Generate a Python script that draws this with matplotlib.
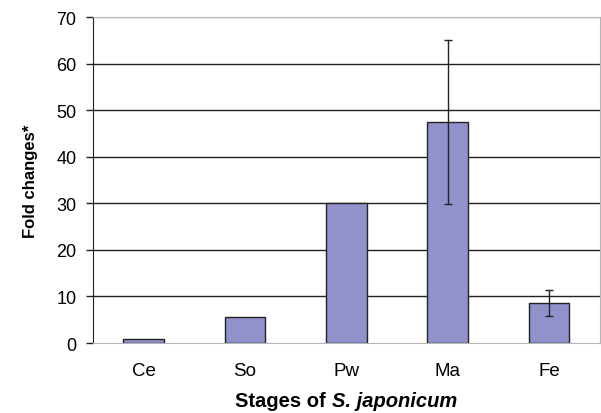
import matplotlib.pyplot as plt

# Данные
stages = ['Ce', 'So', 'Pw', 'Ma', 'Fe']
fold = [0.8, 5.5, 30.0, 47.5, 8.6]
err = [0, 0, 0, 17.6, 2.7]

plt.rcParams['font.family'] = 'Liberation Sans'

fig = plt.figure(figsize=(6.01, 4.14), dpi=100)
ax = fig.add_axes([0.1547, 0.169, 0.843, 0.7875])

x = range(len(stages))
ax.bar(x, fold, width=0.4, color='#9191cb', edgecolor='#222222', linewidth=1.0, zorder=3)
for i in x:
    if err[i] > 0:
        ax.errorbar(i, fold[i], yerr=err[i], fmt='none', ecolor='#222222',
                    elinewidth=1.0, capsize=3, capthick=1.0, zorder=4)

ax.set_xlim(-0.5, 4.5)
ax.set_ylim(0, 70)
ax.set_yticks(range(0, 71, 10))
ax.set_xticks(list(x))
ax.set_xticklabels(stages)
ax.tick_params(axis='x', length=0, pad=14, labelsize=13.5)
ax.tick_params(axis='y', length=5, width=1, direction='out', pad=7, labelsize=13, color='#222222')

ax.yaxis.grid(True, color='#222222', linewidth=1.0, zorder=0)
gl = ax.get_ygridlines()
gl[0].set_visible(False)
gl[-1].set_color('#b5b5b5')

for s in ['top', 'right', 'bottom']:
    ax.spines[s].set_color('#b5b5b5')
ax.spines['left'].set_color('#222222')

ax.set_ylabel('Fold changes*', fontsize=12, fontweight='bold', labelpad=13)

# Подпись оси X: обычная часть + курсив
t1 = fig.text(0, 0.018, 'Stages of ', fontsize=14.5, fontweight='bold', ha='left', va='baseline')
t2 = fig.text(0, 0.018, 'S. japonicum', fontsize=14.5, fontweight='bold', style='italic',
              ha='left', va='baseline')
r = fig.canvas.get_renderer()
w1 = t1.get_window_extent(r).width
w2 = t2.get_window_extent(r).width
fw = fig.get_figwidth() * fig.dpi
cx = (ax.get_position().x0 + ax.get_position().x1) / 2 * fw
t1.set_x((cx - (w1 + w2) / 2) / fw)
t2.set_x((cx - (w1 + w2) / 2 + w1) / fw)

plt.savefig('out.png', dpi=100)
